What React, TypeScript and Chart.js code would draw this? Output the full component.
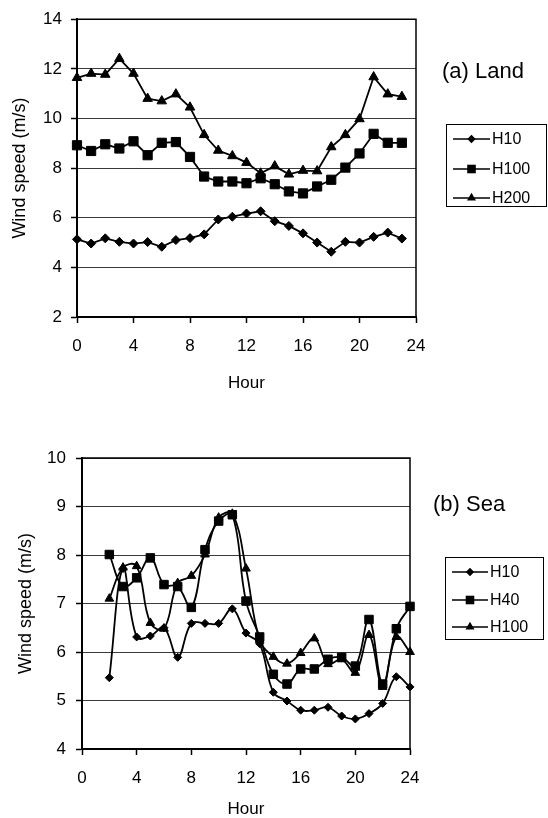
import React, { useEffect, useRef } from 'react';
import { Chart, registerables } from 'chart.js';

Chart.register(...registerables);

const FONT = '"Liberation Sans", Arial, Helvetica, sans-serif';

// ---- Data: (a) Land ----
const landHours = [0, 1, 2, 3, 4, 5, 6, 7, 8, 9, 10, 11, 12, 13, 14, 15, 16, 17, 18, 19, 20, 21, 22, 23];
const landH10 = [5.13, 4.96, 5.17, 5.03, 4.96, 5.02, 4.83, 5.1, 5.18, 5.33, 5.93, 6.04, 6.17, 6.26, 5.86, 5.67, 5.37, 5.0, 4.63, 5.03, 5.0, 5.23, 5.4, 5.16];
const landH100 = [8.92, 8.69, 8.96, 8.79, 9.08, 8.52, 9.02, 9.05, 8.45, 7.66, 7.46, 7.46, 7.39, 7.59, 7.35, 7.06, 6.98, 7.26, 7.53, 8.02, 8.59, 9.38, 9.02, 9.02];
const landH200 = [11.64, 11.81, 11.77, 12.41, 11.81, 10.8, 10.7, 10.98, 10.45, 9.34, 8.71, 8.49, 8.22, 7.79, 8.08, 7.75, 7.9, 7.88, 8.85, 9.34, 9.98, 11.67, 10.98, 10.88];
const landLabels = ['H10', 'H100', 'H200'];

// ---- Data: (b) Sea ----
const seaHours = [2, 3, 4, 5, 6, 7, 8, 9, 10, 11, 12, 13, 14, 15, 16, 17, 18, 19, 20, 21, 22, 23, 24];
const seaH10 = [5.47, 7.72, 6.31, 6.33, 6.5, 5.89, 6.59, 6.59, 6.59, 6.89, 6.39, 6.17, 5.17, 4.99, 4.8, 4.8, 4.86, 4.68, 4.62, 4.73, 4.94, 5.49, 5.28];
const seaH40 = [8.01, 7.35, 7.53, 7.94, 7.39, 7.35, 6.92, 8.11, 8.7, 8.83, 7.05, 6.31, 5.54, 5.34, 5.65, 5.65, 5.85, 5.89, 5.71, 6.67, 5.34, 6.48, 6.94];
const seaH100 = [7.1, 7.74, 7.77, 6.6, 6.48, 7.42, 7.57, 8.01, 8.77, 8.85, 7.72, 6.25, 5.9, 5.76, 5.98, 6.28, 5.75, 5.85, 5.57, 6.35, 5.28, 6.31, 6.0];
const seaLabels = ['H10', 'H40', 'H100'];

const xTitle = 'Hour';
const yTitle = 'Wind speed (m/s)';

const pointStyles = ['rectRot', 'rect', 'triangle'];

function pts(xs: number[], ys: number[]) {
  return xs.map((x, i) => ({ x, y: ys[i] }));
}

function drawMarker(ctx: CanvasRenderingContext2D, style: string, x: number, y: number) {
  ctx.beginPath();
  if (style === 'rectRot') {
    const r = 4.2;
    ctx.moveTo(x, y - r);
    ctx.lineTo(x + r, y);
    ctx.lineTo(x, y + r);
    ctx.lineTo(x - r, y);
  } else if (style === 'rect') {
    const h = 4.3;
    ctx.rect(x - h, y - h, 2 * h, 2 * h);
  } else {
    const r = 5.2;
    ctx.moveTo(x, y - r);
    ctx.lineTo(x + r * 0.866, y + r * 0.5);
    ctx.lineTo(x - r * 0.866, y + r * 0.5);
  }
  ctx.closePath();
  ctx.fill();
}

const extrasPlugin = {
  id: 'extras',
  afterDraw(chart: any, _args: any, opts: any) {
    const ctx: CanvasRenderingContext2D = chart.ctx;
    const a = chart.chartArea;
    ctx.save();
    ctx.strokeStyle = '#000';
    ctx.fillStyle = '#000';
    // frame top/right
    ctx.lineWidth = 1.5;
    ctx.beginPath();
    ctx.moveTo(a.left, a.top);
    ctx.lineTo(a.right, a.top);
    ctx.lineTo(a.right, a.bottom);
    ctx.stroke();
    // panel label
    ctx.font = `22px ${FONT}`;
    ctx.textAlign = 'left';
    ctx.textBaseline = 'middle';
    ctx.fillText(opts.label, opts.labelX, opts.labelY);
    // legend box
    const b = opts.box;
    ctx.lineWidth = 1;
    ctx.strokeRect(Math.round(b.x) + 0.5, Math.round(b.y) + 0.5, b.w, b.h);
    ctx.font = `16px ${FONT}`;
    chart.data.datasets.forEach((ds: any, i: number) => {
      const y = opts.rows[i];
      ctx.lineWidth = 1.5;
      ctx.beginPath();
      ctx.moveTo(opts.lineX0, y);
      ctx.lineTo(opts.lineX1, y);
      ctx.stroke();
      drawMarker(ctx, pointStyles[i], (opts.lineX0 + opts.lineX1) / 2, y);
      ctx.fillText(ds.label, opts.textX, y + 1);
    });
    ctx.restore();
  },
};

interface PanelProps {
  top: number;
  height: number;
  areaLeft: number;
  areaTop: number;
  areaRight: number;
  areaBottom: number;
  yMin: number;
  yMax: number;
  yStep: number;
  xs: number[];
  series: number[][];
  labels: string[];
  tension: number;
  radii: number[];
  yTitlePad: number;
  xTitlePad: number;
  xTickPad: number;
  yTickPad: number;
  extras: any;
}

function Panel(p: PanelProps) {
  const ref = useRef<HTMLCanvasElement>(null);
  useEffect(() => {
    if (!ref.current) return;
    const datasets = p.series.map((s, i) => ({
      label: p.labels[i],
      data: pts(p.xs, s),
      borderColor: '#000',
      backgroundColor: '#000',
      pointBackgroundColor: '#000',
      pointBorderColor: '#000',
      pointBorderWidth: 1,
      borderWidth: 1.8,
      pointStyle: pointStyles[i],
      pointRadius: p.radii[i],
      tension: p.tension,
      fill: false,
      clip: false as any,
    }));
    const chart = new Chart(ref.current, {
      type: 'line',
      data: { datasets },
      plugins: [extrasPlugin as any],
      options: {
        responsive: false,
        animation: false,
        maintainAspectRatio: false,
        layout: {
          padding: { left: 0, top: p.areaTop, right: 548 - p.areaRight, bottom: 0 },
        },
        plugins: {
          legend: { display: false },
          tooltip: { enabled: false },
          extras: p.extras,
        } as any,
        scales: {
          x: {
            type: 'linear',
            min: 0,
            max: 24,
            afterFit: (s: any) => {
              s.height = p.height - p.areaBottom;
            },
            ticks: {
              stepSize: 4,
              color: '#000',
              font: { family: FONT, size: 17 },
              padding: p.xTickPad,
            },
            grid: {
              display: true,
              drawOnChartArea: false,
              drawTicks: true,
              tickLength: 6,
              tickColor: '#000',
              tickWidth: 1.5,
            },
            border: { display: true, color: '#000', width: 2 },
            title: {
              display: true,
              text: xTitle,
              color: '#000',
              font: { family: FONT, size: 17, lineHeight: 1 },
              padding: { top: 0, bottom: p.xTitlePad },
            },
          },
          y: {
            type: 'linear',
            min: p.yMin,
            max: p.yMax,
            afterFit: (s: any) => {
              s.width = p.areaLeft;
            },
            ticks: {
              stepSize: p.yStep,
              color: '#000',
              font: { family: FONT, size: 17 },
              padding: p.yTickPad,
            },
            grid: {
              display: true,
              drawOnChartArea: true,
              color: '#3a3a3a',
              lineWidth: 1,
              drawTicks: true,
              tickLength: 6,
              tickColor: '#000',
              tickWidth: 1.5,
            },
            border: { display: true, color: '#000', width: 2 },
            title: {
              display: true,
              text: yTitle,
              color: '#000',
              font: { family: FONT, size: 18, lineHeight: 1 },
              padding: { top: p.yTitlePad, bottom: 0 },
            },
          },
        },
      } as any,
    });
    return () => chart.destroy();
  }, []);
  return (
    <canvas
      ref={ref}
      width={548}
      height={p.height}
      style={{ position: 'absolute', left: 0, top: p.top, width: 548, height: p.height, display: 'block' }}
    />
  );
}

export default function App() {
  return (
    <div style={{ position: 'absolute', left: 0, top: 0, width: 548, height: 818, background: '#fff', overflow: 'hidden' }}>
      <Panel
        top={0}
        height={400}
        areaLeft={77}
        areaTop={16}
        areaRight={416}
        areaBottom={317}
        yMin={2}
        yMax={14}
        yStep={2}
        xs={landHours}
        series={[landH10, landH100, landH200]}
        labels={landLabels}
        tension={0}
        radii={[4.5, 6.5, 5.5]}
        yTitlePad={11}
        xTitlePad={8}
        xTickPad={13}
        yTickPad={9}
        extras={{
          label: '(a) Land',
          labelX: 442,
          labelY: 72,
          box: { x: 446, y: 124, w: 100, h: 82 },
          rows: [139, 169, 198],
          lineX0: 453,
          lineX1: 490,
          textX: 492,
        }}
      />
      <Panel
        top={400}
        height={418}
        areaLeft={82}
        areaTop={58}
        areaRight={410}
        areaBottom={349}
        yMin={4}
        yMax={10}
        yStep={1}
        xs={seaHours}
        series={[seaH10, seaH40, seaH100]}
        labels={seaLabels}
        tension={0.4}
        radii={[4, 6, 5]}
        yTitlePad={17}
        xTitlePad={0}
        xTickPad={13}
        yTickPad={10}
        extras={{
          label: '(b) Sea',
          labelX: 433,
          labelY: 105,
          box: { x: 445, y: 157, w: 98, h: 82 },
          rows: [172, 200, 227],
          lineX0: 452,
          lineX1: 488,
          textX: 490,
        }}
      />
    </div>
  );
}
